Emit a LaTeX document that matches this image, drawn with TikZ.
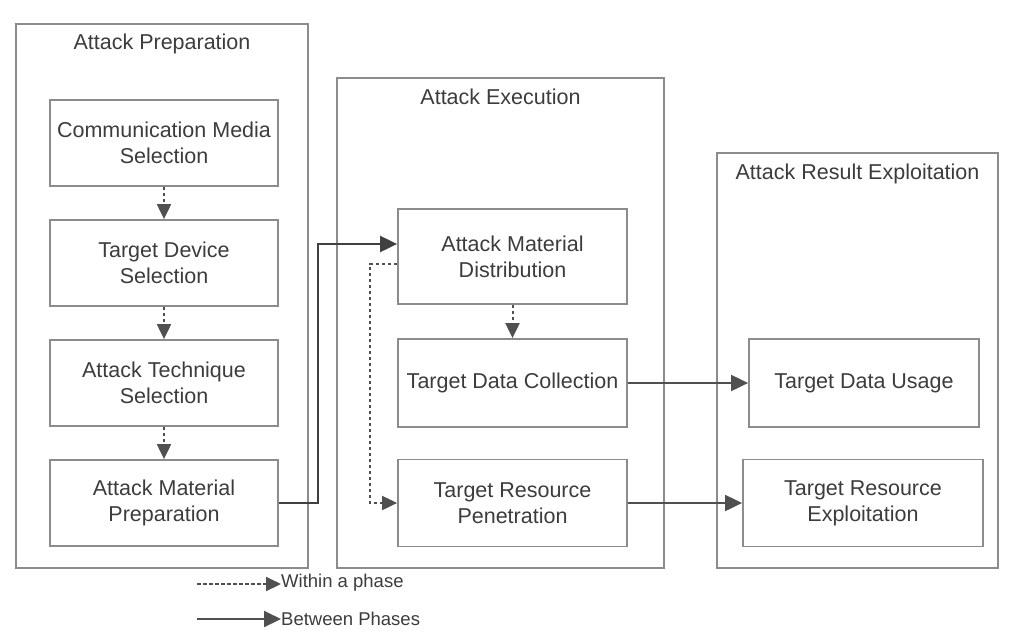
\documentclass[tikz,border=0pt]{standalone}
\usepackage{fontspec}
\setmainfont{Liberation Sans}
\usetikzlibrary{arrows.meta,positioning}

\definecolor{boxgray}{HTML}{8C8C8C}
\definecolor{arrowgray}{HTML}{505050}
\definecolor{textgray}{HTML}{3C3C3C}

\begin{document}
\begin{tikzpicture}[x=1pt, y=-1pt,
		phase/.style={draw=boxgray, line width=1.8pt, inner sep=0pt},
		stage/.style={draw=boxgray, line width=1.8pt, align=center, text=textgray,
			font=\fontsize{21.5}{26}\selectfont, inner sep=0pt},
		title/.style={text=textgray, font=\fontsize{21.5}{26}\selectfont, inner sep=0pt},
		within/.style={draw=arrowgray, line width=2pt, dash pattern=on 3.5pt off 2.5pt,
			-{Triangle[length=15pt,width=14pt]}},
		between/.style={draw=arrowgray, line width=2pt,
			-{Triangle[length=17pt,width=16pt]}},
		legend/.style={text=textgray, font=\fontsize{18.5}{22}\selectfont, inner sep=0pt, anchor=west}]
		\useasboundingbox (0,0) rectangle (1011,633);
		% phases
		\node[phase, minimum width=292pt, minimum height=544pt] (prep) at (162,296) {};
		\node[phase, minimum width=327pt, minimum height=490pt] (exec) at (500.5,323) {};
		\node[phase, minimum width=281pt, minimum height=415pt] (result) at (857.5,360.5) {};
		\node[title, below=11pt of prep.north] {Attack Preparation};
		\node[title, below=12pt of exec.north] {Attack Execution};
		\node[title, below=12pt of result.north] {Attack Result Exploitation};
		% stages
		\node[stage, minimum width=228pt, minimum height=86pt] (media) at (164,143) {Communication Media\\Selection};
		\node[stage, minimum width=228pt, minimum height=86pt] (device) at (164,263) {Target Device\\Selection};
		\node[stage, minimum width=228pt, minimum height=86pt] (tech) at (164,383) {Attack Technique\\Selection};
		\node[stage, minimum width=228pt, minimum height=86pt] (amprep) at (164,503) {Attack Material\\Preparation};
		\node[stage, minimum width=229pt, minimum height=95pt] (amdist) at (512.5,256.5) {Attack Material\\Distribution};
		\node[stage, minimum width=229pt, minimum height=88pt] (tdcoll) at (512.5,383) {Target Data Collection};
		\node[stage, minimum width=229pt, minimum height=87pt] (trpen) at (512.5,503) {Target Resource\\Penetration};
		\node[stage, minimum width=230pt, minimum height=88pt] (tdusage) at (864,383) {Target Data Usage};
		\node[stage, minimum width=240pt, minimum height=87pt] (trexpl) at (863,503) {Target Resource\\Exploitation};
		% arrows
		\draw[within] (media) -- (device);
		\draw[within] (device) -- (tech);
		\draw[within] (tech) -- (amprep);
		\draw[within] (amdist.south) -- (tdcoll.north);
		\draw[within] ([yshift=-7pt]amdist.west) -- ++(-27,0) |- (trpen.west);
		\draw[between, draw=black!75] (amprep.east) -- ++(39,0) |- ([yshift=12.5pt]amdist.west);
		\draw[between] (tdcoll) -- (tdusage);
		\draw[between] (trpen) -- (trexpl);
		% legend
		\coordinate (w0) at (197,584);
		\coordinate (b0) at (197,619);
		\node[legend] (wtext) at (281,583) {Within a phase};
		\node[legend] (btext) at (281,619) {Between Phases};
		\draw[within] (w0) -- (w0 -| wtext.west);
		\draw[between] (b0) -- (b0 -| btext.west);
	\end{tikzpicture}
\end{document}
